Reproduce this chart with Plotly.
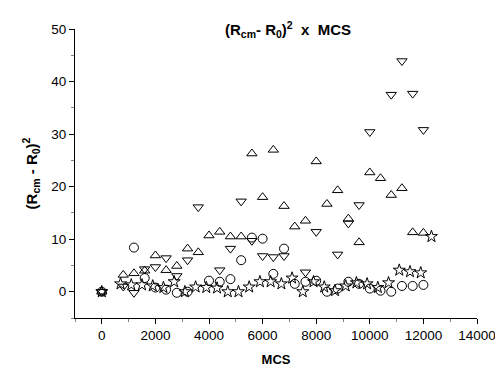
import plotly.graph_objects as go

# up triangles
up_x = [0, 800, 1200, 1600, 2000, 2400, 2800, 3200, 3600, 4000, 4400, 4800, 5200, 5600, 6000,
        6400, 6800, 7200, 7600, 8000, 8400, 8800, 9200, 9600, 10000, 10400, 10800, 11200, 11600, 12000]
up_y = [0, 3.2, 3.5, 4.0, 6.9, 4.1, 4.9, 8.2, 7.5, 10.7, 11.4, 10.5, 10.5, 26.3, 18.0,
        27.0, 16.3, 12.4, 13.5, 24.8, 16.7, 19.3, 13.9, 9.4, 22.7, 21.6, 18.4, 19.7, 11.3, 11.2]

# down triangles
down_x = [0, 800, 1200, 1600, 2000, 2400, 2800, 3200, 3600, 4400, 4800, 5200, 5600, 6000,
          6400, 6800, 7600, 8000, 8800, 9200, 9600, 10000, 10800, 11200, 11600, 12000]
down_y = [0, 1.0, -0.2, 4.3, 4.7, 6.4, 3.0, 6.0, 16.1, 4.1, 8.2, 17.2, 9.7, 6.8,
          6.6, 6.8, 3.7, 11.4, 7.1, 13.0, 16.5, 30.4, 37.5, 43.9, 37.7, 30.8]

# circles
circ_x = [0, 1200, 1600, 2000, 2400, 2800, 3200, 4000, 4400, 4800, 5200, 5600, 6000, 6400,
          6800, 7200, 7600, 8000, 8400, 8800, 9200, 9600, 10000, 10400, 10800, 11200, 11600, 12000]
circ_y = [0, 8.4, 2.6, 0.8, 0.4, -0.2, 0, 2.1, 1.9, 2.4, 6.0, 10.3, 10.1, 3.4,
          8.2, 1.5, 1.9, 2.1, 0, 0.6, 1.9, 1.5, 0.6, 0.2, 0, 1.1, 1.1, 1.3]

# stars
star_x = [0, 700, 1100, 1500, 1900, 2300, 2700, 3100, 3500, 3900, 4300, 4700, 5100, 5500, 5900, 6300,
          6700, 7100, 7500, 7900, 8300, 8700, 9100, 9500, 9900, 10300, 10700, 11100, 11500, 11900, 12300]
star_y = [0, 1.5, 1.3, 1.3, 1.1, 0.8, 1.9, 0, 0.9, 0.8, 0.7, 0, 0, 0.9, 1.9, 1.9,
          1.5, 2.6, 0, 1.9, 0.9, 0.2, 1.1, 1.7, 1.5, 0.8, 1.7, 4.1, 3.8, 3.6, 10.5]

x_ticks = list(range(0, 14001, 2000))
y_ticks = list(range(0, 51, 10))

fig = go.Figure()
for xs, ys, sym, sz in [(up_x, up_y, 'triangle-up-open', 9),
                        (down_x, down_y, 'triangle-down-open', 9),
                        (circ_x, circ_y, 'circle-open', 9),
                        (star_x, star_y, 'star-open', 9)]:
    fig.add_trace(go.Scatter(x=xs, y=ys, mode='markers',
                             marker=dict(symbol=sym, size=sz, color='black',
                                         line=dict(width=1, color='black'))))

axis_common = dict(showgrid=False, zeroline=False, showline=True, linecolor='black',
                   linewidth=1, ticks='outside', ticklen=5, tickcolor='black',
                   tickfont=dict(size=13.5, color='black'))

fig.update_xaxes(range=[-1000, 14000], tickvals=x_ticks, ticktext=[str(v) for v in x_ticks],
                 minor=dict(ticks='outside', ticklen=3, tickcolor='gray', dtick=1000, tick0=0),
                 title=dict(text='<b>MCS</b>', font=dict(size=13, color='black'), standoff=12),
                 **axis_common)
fig.update_yaxes(range=[-5, 50], tickvals=y_ticks, ticktext=[str(v) for v in y_ticks],
                 minor=dict(ticks='outside', ticklen=3, tickcolor='gray', dtick=5, tick0=0),
                 title=dict(text='<b>(R<sub>cm</sub> - R<sub>0</sub>)<sup>2</sup></b>',
                            font=dict(size=15, color='black'), standoff=10),
                 **axis_common)

fig.add_annotation(text='<b>(R<sub>cm</sub>- R<sub>0</sub>)<sup>2</sup>  x  MCS</b>',
                   x=0.53, y=1.04, xref='paper', yref='paper', yanchor='top', showarrow=False,
                   font=dict(size=15, color='black'))

fig.update_layout(width=503, height=368, showlegend=False,
                  paper_bgcolor='white', plot_bgcolor='white',
                  font=dict(family='Liberation Sans, Arial, sans-serif'),
                  margin=dict(l=67, r=34, t=21, b=54))

fig.write_html("out.html")
